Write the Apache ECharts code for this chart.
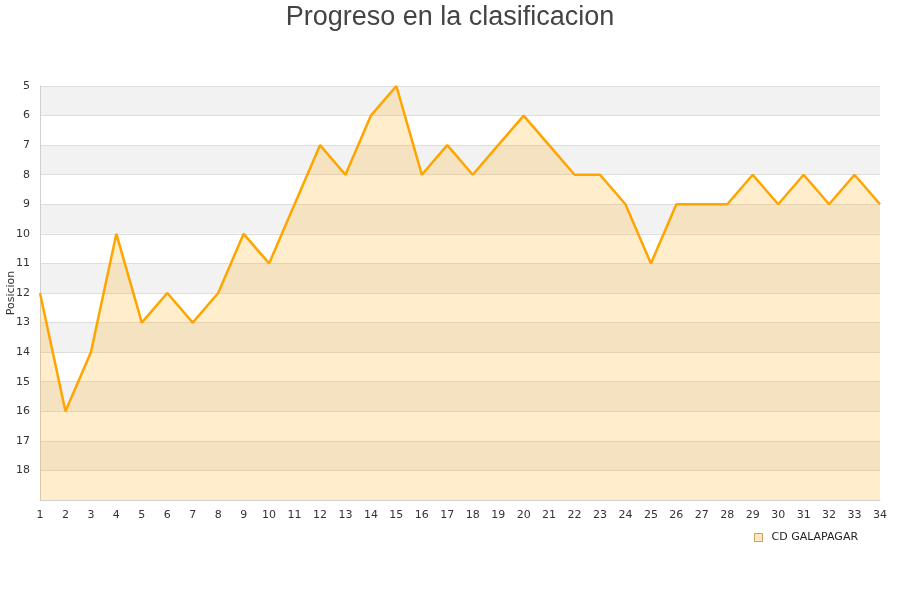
<!DOCTYPE html>
<html><head><meta charset="utf-8">
<script src="https://cdn.jsdelivr.net/npm/echarts@6/dist/echarts.min.js"></script>
<style>html,body{margin:0;padding:0;background:#fff}#c{width:900px;height:600px}</style>
</head><body><div id="c"></div>
<script>
const jornadas = ["1","2","3","4","5","6","7","8","9","10","11","12","13","14","15","16","17","18","19","20","21","22","23","24","25","26","27","28","29","30","31","32","33","34"];
const posiciones = [12,16,14,10,13,12,13,12,10,11,9,7,8,6,5,8,7,8,7,6,7,8,8,9,11,9,9,9,8,9,8,9,8,9];
const seriesName = "CD GALAPAGAR";
const chart = echarts.init(document.getElementById('c'));
chart.setOption({
  animation: false,
  title: {text: 'Progreso en la clasificacion', left: 'center', top: -1,
    textStyle: {fontFamily: 'Liberation Sans, Arial, sans-serif', fontSize: 27, fontWeight: 'normal', color: '#444'}},
  legend: {data: [{name: seriesName, icon: 'rect'}], left: 749, top: 527, itemWidth: 8, itemHeight: 8, itemGap: 6,
    textStyle: {fontFamily: 'DejaVu Sans, sans-serif', fontSize: 11, color: '#222', padding: [0,0,0,4]},
    itemStyle: {color: '#ffe9c4', borderColor: '#c9a060', borderWidth: 1}},
  grid: {left: 40, right: 20, top: 86, bottom: 100, containLabel: false, outerBoundsMode: 'none'},
  xAxis: {type: 'category', data: jornadas, boundaryGap: false,
    axisLine: {lineStyle: {color: '#d0d0d0'}}, axisTick: {show: false},
    axisLabel: {color: '#333', fontSize: 11, fontFamily: 'DejaVu Sans, sans-serif', margin: 10, interval: 0},
    splitLine: {show: false}},
  yAxis: {type: 'value', inverse: true, min: 5, max: 19, interval: 1,
    name: 'Posicion', nameLocation: 'middle', nameGap: 23, nameRotate: 90, nameMoveOverlap: false,
    nameTextStyle: {color: '#333', fontSize: 11, fontFamily: 'DejaVu Sans, sans-serif'},
    axisLine: {show: true, lineStyle: {color: '#d0d0d0'}}, axisTick: {show: false},
    axisLabel: {color: '#333', fontSize: 11, fontFamily: 'DejaVu Sans, sans-serif', margin: 10,
      formatter: v => v === 19 ? '' : String(v)},
    splitLine: {show: true, lineStyle: {color: '#dedede'}},
    splitArea: {show: true, areaStyle: {color: ['#f2f2f2', '#ffffff'], opacity: 1}}},
  series: [{name: seriesName, type: 'line', data: posiciones, showSymbol: false, symbol: 'none',
    lineStyle: {color: '#ffa500', width: 2.5}, itemStyle: {color: '#ffa500'},
    areaStyle: {color: '#ffa500', opacity: 0.2, origin: 'end'}}]
});
</script></body></html>
